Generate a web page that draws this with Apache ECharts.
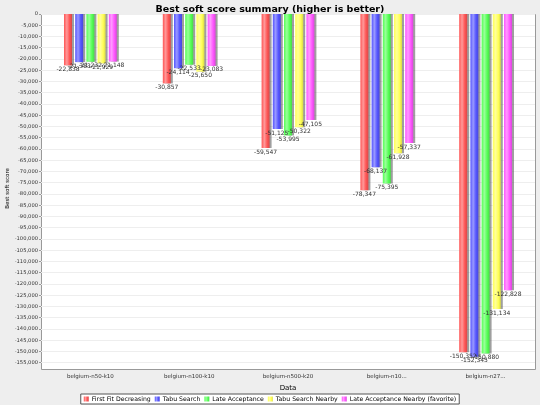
<!DOCTYPE html>
<html>
<head>
<meta charset="utf-8">
<script src="https://cdn.jsdelivr.net/npm/echarts@6/dist/echarts.min.js"></script>
<style>
html,body{margin:0;padding:0;background:#eeeeee;}
#c{width:540px;height:405px;}
</style>
</head>
<body>
<div id="c"></div>
<script>
var categories = ['belgium-n50-k10', 'belgium-n100-k10', 'belgium-n500-k20', 'belgium-n10...', 'belgium-n27...'];
var seriesNames = ['First Fit Decreasing', 'Tabu Search', 'Late Acceptance', 'Tabu Search Nearby', 'Late Acceptance Nearby (favorite)'];
var firstFitDecreasing = [-22838, -30857, -59547, -78347, -150352];
var tabuSearch = [-21383, -24114, -51125, -68137, -152345];
var lateAcceptance = [-21232, -22533, -53995, -75395, -150880];
var tabuSearchNearby = [-21929, -25650, -50322, -61928, -131134];
var lateAcceptanceNearby = [-21148, -23083, -47105, -57337, -122828];
var colors = ['#ff5555', '#5555ff', '#55ff55', '#ffff55', '#ff55ff'];
var yMin = -155000, yMax = 0, yStep = 5000;

function fmt(v) { return Math.round(v).toLocaleString('en-US'); }
function lighten(hex, f) {
  var r = parseInt(hex.substr(1,2),16), g = parseInt(hex.substr(3,2),16), b = parseInt(hex.substr(5,2),16);
  r = Math.round(r + (255-r)*f); g = Math.round(g + (255-g)*f); b = Math.round(b + (255-b)*f);
  return 'rgb(' + r + ',' + g + ',' + b + ')';
}
function darken(hex, f) {
  var r = parseInt(hex.substr(1,2),16), g = parseInt(hex.substr(3,2),16), b = parseInt(hex.substr(5,2),16);
  return 'rgb(' + Math.round(r*f) + ',' + Math.round(g*f) + ',' + Math.round(b*f) + ')';
}
var allData = [firstFitDecreasing, tabuSearch, lateAcceptance, tabuSearchNearby, lateAcceptanceNearby];
var series = allData.map(function (d, i) {
  return {
    name: seriesNames[i],
    type: 'bar',
    data: d,
    barWidth: 8,
    barGap: '40%',
    itemStyle: {
      color: {
        type: 'linear', x: 0, y: 0, x2: 1, y2: 0,
        colorStops: [
          {offset: 0, color: colors[i]},
          {offset: 0.35, color: lighten(colors[i], 0.4)},
          {offset: 0.7, color: colors[i]},
          {offset: 1, color: darken(colors[i], 0.85)}
        ]
      },
      shadowColor: 'rgba(80,80,80,0.55)',
      shadowOffsetX: 2,
      shadowOffsetY: 0,
      shadowBlur: 0
    },
    label: {
      show: true,
      position: 'bottom',
      distance: 1,
      fontSize: 6,
      fontFamily: 'DejaVu Sans',
      color: '#333333',
      formatter: function (p) { return fmt(p.value); }
    }
  };
});

var plotLeft = 41, plotRight = 535, plotTop = 14, plotBottom = 369;

var chart = echarts.init(document.getElementById('c'), null, {renderer: 'canvas'});
chart.setOption({
  backgroundColor: '#eeeeee',
  animation: false,
  color: colors,
  title: {
    text: 'Best soft score summary (higher is better)',
    left: 'center',
    top: 0,
    textStyle: {fontFamily: 'DejaVu Sans', fontSize: 9.5, fontWeight: 'bold', color: '#000'}
  },
  graphic: [{
    type: 'rect',
    z: -100,
    silent: true,
    shape: {x: plotLeft + 0.5, y: plotTop + 0.5, width: plotRight - plotLeft, height: plotBottom - plotTop},
    style: {fill: '#ffffff', stroke: '#999999', lineWidth: 1}
  }],
  legend: {
    bottom: 1,
    left: 'center',
    itemWidth: 5,
    itemHeight: 5,
    itemGap: 4,
    icon: 'rect',
    padding: [2, 3, 2, 3],
    borderColor: '#555',
    borderWidth: 1,
    backgroundColor: '#ffffff',
    textStyle: {fontFamily: 'DejaVu Sans', fontSize: 6.2, color: '#000', padding: [0, 0, 0, -2]},
    data: seriesNames
  },
  grid: {
    left: plotLeft, right: 540 - plotRight, top: plotTop, bottom: 42.3,
    show: false,
    containLabel: false,
    outerBoundsMode: 'none'
  },
  xAxis: {
    type: 'category',
    data: categories,
    name: 'Data',
    nameLocation: 'middle',
    nameGap: 21,
    nameTextStyle: {fontFamily: 'DejaVu Sans', fontSize: 7, color: '#000'},
    axisLine: {show: false},
    axisTick: {show: false},
    axisLabel: {fontFamily: 'DejaVu Sans', fontSize: 5.5, color: '#333', margin: 11},
    splitLine: {show: false}
  },
  yAxis: {
    type: 'value',
    min: yMin,
    max: yMax,
    interval: yStep,
    name: 'Best soft score',
    nameLocation: 'middle',
    nameGap: 30,
    nameMoveOverlap: false,
    nameTextStyle: {fontFamily: 'DejaVu Sans', fontSize: 5.5, color: '#000'},
    axisLine: {show: false},
    axisTick: {show: true, length: 2, lineStyle: {color: '#999'}},
    axisLabel: {
      fontFamily: 'DejaVu Sans', fontSize: 5.2, color: '#333', margin: 3,
      formatter: function (v) { return fmt(v); }
    },
    splitLine: {show: true, lineStyle: {color: '#eeeeee', width: 1}}
  },
  series: series
});
</script>
</body>
</html>
